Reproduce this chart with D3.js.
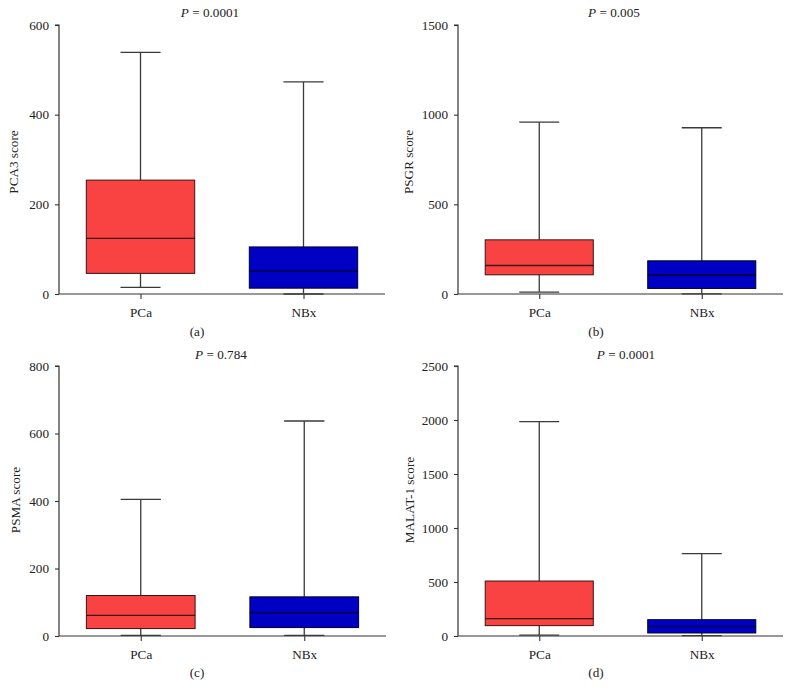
<!DOCTYPE html>
<html>
<head>
<meta charset="utf-8">
<script src="https://cdn.jsdelivr.net/npm/d3@7"></script>
<style>
  html, body { margin: 0; padding: 0; background: #fff; }
  svg { display: block; font-family: "Liberation Serif", "DejaVu Serif", serif; }
</style>
</head>
<body>
<svg id="chart" width="792" height="700"></svg>
<script>
// ---------- data ----------
const categories = ["PCa", "NBx"];
const panelLetters = ["(a)", "(b)", "(c)", "(d)"];
const yLabels = ["PCA3 score", "PSGR score", "PSMA score", "MALAT-1 score"];
const pValues = ["0.0001", "0.005", "0.784", "0.0001"];
const yMax = [600, 1500, 800, 2500];
const yTicks = [
  [0, 200, 400, 600],
  [0, 500, 1000, 1500],
  [0, 200, 400, 600, 800],
  [0, 500, 1000, 1500, 2000, 2500]
];
// per panel, per category: [min, q1, median, q3, max]
const pca3Stats = [[15, 46, 124, 254, 539], [0, 13, 51, 105, 473]];
const psgrStats = [[11, 107, 159, 302, 958], [1, 31, 106, 185, 927]];
const psmaStats = [[2, 22, 61, 120, 405], [2, 25, 69, 116, 637]];
const malatStats = [[9, 96, 160, 509, 1985], [3, 28, 90, 151, 762]];
const allStats = [pca3Stats, psgrStats, psmaStats, malatStats];

// ---------- layout ----------
const FS = 13.2;
const layout = [
  { x0: 59,  x1: 385, top: 25,  bottom: 294, titleX: 210, titleY: 17,  ylabX: 18,  ylabY: 162, capY: 336 },
  { x0: 458, x1: 783, top: 25,  bottom: 294, titleX: 614, titleY: 17,  ylabX: 413, ylabY: 162, capY: 336 },
  { x0: 59,  x1: 386, top: 366, bottom: 636, titleX: 221, titleY: 359, ylabX: 20,  ylabY: 500, capY: 677 },
  { x0: 458, x1: 783, top: 366, bottom: 636, titleX: 626, titleY: 359, ylabX: 414, ylabY: 500, capY: 677 }
];
const fills = ["#F94343", "#0000C4"];
const strokes = ["#3a1212", "#00002a"];

const svg = d3.select("#chart");

layout.forEach((L, i) => {
  const g = svg.append("g");
  const x = d3.scalePoint().domain(categories).range([L.x0, L.x1]).padding(0.5);
  const y = d3.scaleLinear().domain([0, yMax[i]]).range([L.bottom, L.top]);
  const step = x.step();
  const boxW = step * 0.665;
  const capW = boxW * 0.37;

  // y axis
  const yAxis = d3.axisLeft(y).tickValues(yTicks[i]).tickSize(4).tickPadding(6).tickFormat(d3.format("d"));
  const ya = g.append("g").attr("transform", `translate(${L.x0},0)`).call(yAxis);
  ya.attr("font-family", null).attr("font-size", null);
  ya.select(".domain").attr("stroke", "#333").attr("stroke-width", 1.2).attr("d", `M-4,${L.top}H0V${L.bottom}`);
  ya.selectAll(".tick line").attr("stroke", "#333").attr("stroke-width", 1.1);
  ya.selectAll(".tick text").attr("font-size", FS).attr("fill", "#222");

  // x axis
  const xAxis = d3.axisBottom(x).tickSize(5).tickPadding(9);
  const xa = g.append("g").attr("transform", `translate(0,${L.bottom})`).call(xAxis);
  xa.attr("font-family", null).attr("font-size", null);
  xa.select(".domain").attr("stroke", "#333").attr("stroke-width", 1.2).attr("d", `M${L.x0},0H${L.x1}`);
  xa.selectAll(".tick line").attr("stroke", "#333").attr("stroke-width", 1.1);
  xa.selectAll(".tick text").attr("font-size", FS).attr("fill", "#222").attr("dy", "0.71em");

  // boxes
  allStats[i].forEach((s, j) => {
    const cx = x(categories[j]);
    const [mn, q1, md, q3, mx] = s;
    const bg = g.append("g");
    // whiskers
    bg.append("line").attr("x1", cx).attr("x2", cx).attr("y1", y(q3)).attr("y2", y(mx))
      .attr("stroke", "#3a3a3a").attr("stroke-width", 1.3);
    bg.append("line").attr("x1", cx).attr("x2", cx).attr("y1", y(q1)).attr("y2", y(mn))
      .attr("stroke", "#3a3a3a").attr("stroke-width", 1.3);
    bg.append("line").attr("x1", cx - capW / 2).attr("x2", cx + capW / 2).attr("y1", y(mx)).attr("y2", y(mx))
      .attr("stroke", "#3a3a3a").attr("stroke-width", 1.3);
    bg.append("line").attr("x1", cx - capW / 2).attr("x2", cx + capW / 2).attr("y1", y(mn)).attr("y2", y(mn))
      .attr("stroke", "#3a3a3a").attr("stroke-width", 1.3);
    // box
    bg.append("rect").attr("x", cx - boxW / 2).attr("width", boxW)
      .attr("y", y(q3)).attr("height", y(q1) - y(q3))
      .attr("fill", fills[j]).attr("stroke", strokes[j]).attr("stroke-width", 1);
    // median
    bg.append("line").attr("x1", cx - boxW / 2).attr("x2", cx + boxW / 2).attr("y1", y(md)).attr("y2", y(md))
      .attr("stroke", strokes[j]).attr("stroke-width", 1.3);
  });

  // title
  const t = g.append("text").attr("x", L.titleX).attr("y", L.titleY).attr("text-anchor", "middle")
    .attr("font-size", FS).attr("fill", "#222");
  t.append("tspan").attr("font-style", "italic").text("P");
  t.append("tspan").text(" = " + pValues[i]);

  // y label
  g.append("text").attr("transform", `translate(${L.ylabX},${L.ylabY}) rotate(-90)`)
    .attr("text-anchor", "middle").attr("font-size", FS).attr("fill", "#222").text(yLabels[i]);

  // caption
  g.append("text").attr("x", L.x0 + 138).attr("y", L.capY).attr("text-anchor", "middle")
    .attr("font-size", FS).attr("fill", "#222").text(panelLetters[i]);
});
</script>
</body>
</html>
